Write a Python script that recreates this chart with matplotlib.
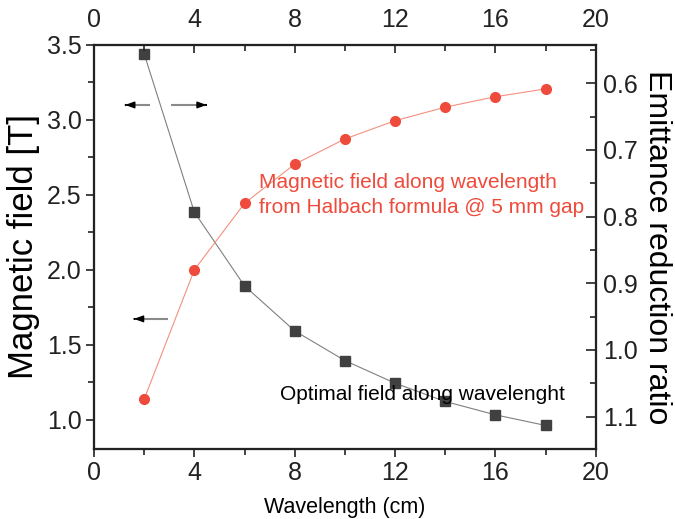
import matplotlib
matplotlib.use("Agg")
import matplotlib.pyplot as plt
from matplotlib.ticker import MultipleLocator

plt.rcParams["font.family"] = ["Liberation Sans", "DejaVu Sans"]

# data
wavelength = [2, 4, 6, 8, 10, 12, 14, 16, 18]
optimal_field = [3.44, 2.385, 1.893, 1.593, 1.395, 1.244, 1.122, 1.033, 0.962]
halbach_field = [1.138, 2.0, 2.444, 2.705, 2.873, 2.995, 3.085, 3.155, 3.207]

BLACK = "#404040"
RED = "#ef4b3c"

fig = plt.figure(figsize=(6.75, 5.19), dpi=100)
ax = fig.add_axes([0.1393, 0.1349, 0.7432, 0.7784])

ax.plot(wavelength, optimal_field, color="#808080", linewidth=0.8,
        marker="s", markersize=6.5, markerfacecolor=BLACK,
        markeredgecolor=BLACK, zorder=3)
ax.plot(wavelength, halbach_field, color="#f4907f", linewidth=0.8,
        marker="o", markersize=7, markerfacecolor=RED,
        markeredgecolor=RED, zorder=3)

ax.set_xlim(0, 20)
ax.set_ylim(0.805, 3.5)
ax.xaxis.set_major_locator(MultipleLocator(4))
ax.xaxis.set_minor_locator(MultipleLocator(2))
ax.yaxis.set_major_locator(MultipleLocator(0.5))
ax.yaxis.set_minor_locator(MultipleLocator(0.25))
ax.tick_params(which="both", direction="out", labelsize=18, width=1.2,
               colors="#222222", pad=3)
ax.tick_params(which="major", length=6)
ax.tick_params(which="minor", length=4)
ax.set_ylabel("Magnetic field [T]", fontsize=25, va="center")
ax.yaxis.set_label_coords(-0.1415, 0.5)
ax.set_xlabel("Wavelength (cm)", fontsize=15.5, va="center")
ax.xaxis.set_label_coords(0.5, -0.146)

# right axis: emittance reduction ratio (inverted)
ax_r = ax.twinx()
ax_r.set_ylim(1.1485, 0.5425)
ax_r.yaxis.set_major_locator(MultipleLocator(0.1))
ax_r.yaxis.set_minor_locator(MultipleLocator(0.05))
ax_r.tick_params(which="both", direction="in", labelsize=18, width=1.2,
                 colors="#222222", pad=5)
ax_r.tick_params(which="major", length=7)
ax_r.tick_params(which="minor", length=4.5)
ax_r.set_ylabel("Emittance reduction ratio", fontsize=23, rotation=270,
                va="center")
ax_r.yaxis.set_label_coords(1.122, 0.5)

# top axis mirrors wavelength
ax_t = ax.twiny()
ax_t.set_xlim(0, 20)
ax_t.xaxis.set_major_locator(MultipleLocator(4))
ax_t.xaxis.set_minor_locator(MultipleLocator(2))
ax_t.tick_params(which="both", direction="in", labelsize=18, width=1.2,
                 colors="#222222", pad=9)
ax_t.tick_params(which="major", length=6)
ax_t.tick_params(which="minor", length=4)

for a in (ax, ax_r, ax_t):
    for sp in a.spines.values():
        sp.set_linewidth(1.5)
        sp.set_color("#222222")


def arrow(x_from, x_to, y):
    # gray shaft with a black head
    ax.plot([x_from, x_to], [y, y], color="#8a8a8a", linewidth=1.5,
            solid_capstyle="butt", zorder=2)
    d = 0.02 if x_to > x_from else -0.02
    ax.annotate("", xy=(x_to, y), xytext=(x_to - d, y),
                arrowprops=dict(arrowstyle="-|>,head_length=0.55,head_width=0.2",
                                color="black", linewidth=1, shrinkA=0,
                                shrinkB=0), zorder=3)


arrow(2.23, 1.24, 3.10)
arrow(3.07, 4.49, 3.10)
arrow(2.96, 1.59, 1.673)

ax.text(6.58, 2.547, "Magnetic field along wavelength", color=RED,
        fontsize=15, va="baseline", ha="left")
ax.text(6.58, 2.38, "from Halbach formula @ 5 mm gap", color=RED,
        fontsize=15, va="baseline", ha="left")
ax.text(7.42, 1.133, "Optimal field along wavelenght", color="black",
        fontsize=15, va="baseline", ha="left")

fig.savefig("out.png", dpi=100)
